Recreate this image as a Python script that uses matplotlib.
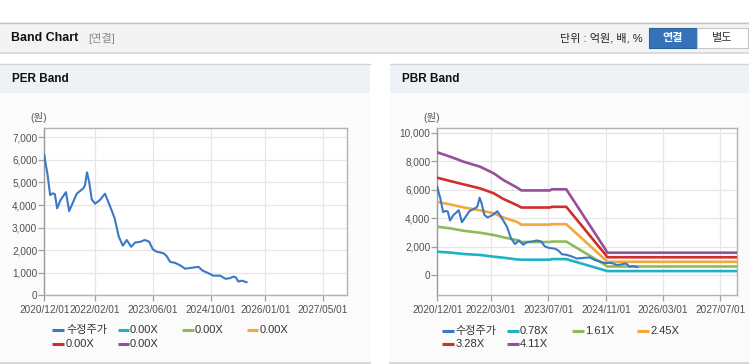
import matplotlib
matplotlib.use("Agg")
import matplotlib.pyplot as plt
import matplotlib.dates as mdates
from matplotlib.patches import Rectangle
from matplotlib.lines import Line2D
from matplotlib.ticker import FuncFormatter
import pandas as pd

# ---------------- data ----------------
price_dates = ['2020-12-01', '2020-12-13', '2020-12-27', '2021-01-19', '2021-02-10', '2021-02-28',
               '2021-03-19', '2021-04-16', '2021-06-01', '2021-06-28', '2021-07-27', '2021-08-30',
               '2021-10-25', '2021-11-08', '2021-11-25', '2021-12-13', '2022-01-04', '2022-02-01',
               '2022-03-13', '2022-04-25', '2022-05-22', '2022-06-19', '2022-07-16', '2022-08-19',
               '2022-09-22', '2022-10-25', '2022-12-01', '2023-01-04', '2023-02-15', '2023-03-25',
               '2023-05-01', '2023-06-01', '2023-07-04', '2023-08-28', '2023-09-25', '2023-10-25',
               '2023-12-04', '2024-01-16', '2024-02-28', '2024-04-22', '2024-06-19', '2024-07-25',
               '2024-09-10', '2024-10-22', '2024-12-19', '2025-02-01', '2025-03-10', '2025-04-10',
               '2025-05-01', '2025-05-19', '2025-06-19', '2025-07-28']
price_values = [6220, 5800, 5400, 4440, 4520, 4480,
                3850, 4220, 4570, 3730, 4080, 4500,
                4740, 4880, 5450, 5030, 4250, 4060,
                4220, 4500, 4150, 3780, 3400, 2600,
                2200, 2450, 2150, 2340, 2370, 2450,
                2380, 2040, 1930, 1870, 1740, 1480,
                1440, 1330, 1180, 1220, 1260, 1090,
                980, 870, 870, 730, 760, 830,
                780, 610, 650, 580]

band_dates = ['2020-12-01', '2021-03-20', '2021-07-10', '2021-12-01', '2022-03-25', '2022-06-15',
              '2022-10-05', '2022-11-15', '2023-07-15', '2023-08-01', '2023-12-01', '2024-11-01',
              '2024-11-12', '2027-12-31']
pbr_band_078 = [1660, 1600, 1500, 1430, 1310, 1240, 1120, 1100, 1100, 1140, 1140, 330, 300, 300]
pbr_band_161 = [3410, 3300, 3130, 2990, 2830, 2670, 2480, 2340, 2340, 2370, 2370, 700, 620, 620]
pbr_band_245 = [5150, 4980, 4770, 4560, 4350, 4060, 3760, 3560, 3560, 3590, 3590, 1060, 950, 950]
pbr_band_328 = [6850, 6620, 6390, 6100, 5760, 5360, 4940, 4760, 4760, 4810, 4810, 1420, 1270, 1270]
pbr_band_411 = [8630, 8330, 7980, 7620, 7160, 6690, 6180, 5960, 5960, 6040, 6040, 1780, 1590, 1590]

price_label = '수정주가'
per_band_labels = ['0.00X', '0.00X', '0.00X', '0.00X', '0.00X']
pbr_band_labels = ['0.78X', '1.61X', '2.45X', '3.28X', '4.11X']

per_ticks = ['2020/12/01', '2022/02/01', '2023/06/01', '2024/10/01', '2026/01/01', '2027/05/01']
pbr_ticks = ['2020/12/01', '2022/03/01', '2023/07/01', '2024/11/01', '2026/03/01', '2027/07/01']
per_yticks = [0, 1000, 2000, 3000, 4000, 5000, 6000, 7000]
pbr_yticks = [0, 2000, 4000, 6000, 8000, 10000]

# ---------------- style ----------------
W, H = 749, 364
C_PRICE = '#3b78c8'
BAND_COLORS = ['#1db3c4', '#8dbb58', '#f4a73a', '#cf2f2c', '#955099']
KFONT = ['Liberation Sans', 'Noto Sans CJK KR', 'DejaVu Sans']
plt.rcParams['font.family'] = KFONT

fig = plt.figure(figsize=(W / 100, H / 100), dpi=100)
fig.patch.set_facecolor('white')


def fx(x):
    return x / W


def fy(y):
    return 1 - y / H


def rect(x0, y0, x1, y1, fc, ec='none', lw=0, z=-10):
    r = Rectangle((fx(x0), fy(y1)), (x1 - x0) / W, (y1 - y0) / H, transform=fig.transFigure,
                  facecolor=fc, edgecolor=ec, linewidth=lw, zorder=z)
    fig.add_artist(r)


def hline(x0, x1, y, color, lw=1.0, z=-9):
    fig.add_artist(Line2D([fx(x0), fx(x1)], [fy(y), fy(y)], transform=fig.transFigure,
                          color=color, linewidth=lw, zorder=z))


# top header bar
rect(0, 22.5, 749, 53, '#f3f3f3')
hline(0, 749, 22.8, '#c4c4c4', 1.0)
hline(0, 749, 53.2, '#d6d6d6', 1.2)
fig.text(fx(11), fy(38), 'Band Chart', fontsize=8.9, fontweight='bold', color='#111111',
         va='center', ha='left', family=KFONT)
fig.text(fx(88), fy(38.5), '[연결]', fontsize=8, color='#8a8a8a', va='center', ha='left', family=KFONT)
fig.text(fx(643), fy(38.5), '단위 : 억원, 배, %', fontsize=8, color='#222222', va='center', ha='right',
         family=KFONT)
rect(648.5, 28.5, 697, 47.5, '#3573b8', ec='#2b62a0', lw=0.8, z=-8)
rect(697, 28.5, 748, 47.5, '#ffffff', ec='#c6c6c6', lw=0.8, z=-8)
fig.text(fx(673), fy(38.2), '연결', fontsize=8, fontweight='bold', color='white', va='center', ha='center',
         family=KFONT)
fig.text(fx(722.5), fy(38.2), '별도', fontsize=8, color='#333333', va='center', ha='center', family=KFONT)

# panels
for (x0, x1, title) in [(0, 370, 'PER Band'), (390, 749, 'PBR Band')]:
    rect(x0, 64, x1, 92.7, '#eef1f6')
    rect(x0, 92.7, x1, 362, '#fbfbfb')
    hline(x0, x1, 64.3, '#d4d4d4', 1.0)
    hline(x0, x1, 362.5, '#cfcfcf', 1.2)
    fig.text(fx(x0 + 11.5), fy(79.5), title, fontsize=8.5, fontweight='bold', color='#111111',
             va='center', ha='left', family=KFONT)


def style_axes(ax, ticks, yticks, ylim):
    ax.set_facecolor('white')
    xt = pd.to_datetime(ticks, format='%Y/%m/%d')
    ax.set_xticks(xt)
    ax.set_xticklabels(ticks)
    ax.set_xlim(pd.Timestamp('2020-12-01'), pd.Timestamp('2027-11-22'))
    ax.set_yticks(yticks)
    ax.set_ylim(*ylim)
    ax.yaxis.set_major_formatter(FuncFormatter(lambda v, p: f'{v:,.0f}'))
    ax.grid(True, color='#e6e6e6', linewidth=0.9)
    ax.set_axisbelow(True)
    for s in ax.spines.values():
        s.set_color('#b2b2b2')
        s.set_linewidth(1.0)
    ax.spines['left'].set_color('#9a9a9a')
    ax.tick_params(axis='both', colors='#a0a0a0', labelcolor='#505050', labelsize=7.2, length=4, width=0.9)
    ax.tick_params(axis='x', pad=3)
    ax.tick_params(axis='y', pad=1)


pd_price = pd.to_datetime(price_dates)
pd_band = pd.to_datetime(band_dates)

# PER axes
ax1 = fig.add_axes([fx(44.3), fy(295.3), 303 / W, 167 / H])
style_axes(ax1, per_ticks, per_yticks, (0, 7400))
ax1.plot(pd_price, price_values, color=C_PRICE, lw=1.5, zorder=5)
for c, lab in zip(BAND_COLORS, per_band_labels):
    ax1.plot([], [], color=c, lw=2, label=lab)
fig.text(fx(39), fy(118), '(원)', fontsize=7.5, color='#555555', ha='center', va='center', family=KFONT)

# PBR axes
ax2 = fig.add_axes([fx(437.3), fy(295.3), 300 / W, 167 / H])
style_axes(ax2, pbr_ticks, pbr_yticks, (-1400, 10320))
for c, vals, lab in zip(BAND_COLORS, [pbr_band_078, pbr_band_161, pbr_band_245, pbr_band_328, pbr_band_411],
                        pbr_band_labels):
    ax2.plot(pd_band, vals, color=c, lw=1.9, label=lab, zorder=3, clip_on=True)
ax2.plot(pd_price, price_values, color=C_PRICE, lw=1.5, zorder=5)
fig.text(fx(431.7), fy(118), '(원)', fontsize=7.5, color='#555555', ha='center', va='center', family=KFONT)


# manual legends
def legend(handle_x, text_x, rows_y, labels, colors):
    for i, (lab, c) in enumerate(zip(labels, colors)):
        r, col = divmod(i, 4)
        y = rows_y[r]
        hx = handle_x[col]
        fig.add_artist(Line2D([fx(hx), fx(hx + 11.5)], [fy(y), fy(y)], transform=fig.transFigure,
                              color=c, linewidth=2.2, solid_capstyle='butt'))
        fig.text(fx(text_x[col]), fy(y), lab, fontsize=8, color='#333333', ha='left', va='center',
                 family=KFONT)


legend([52.3, 117.7, 182.3, 246.7], [66.0, 130.0, 195.0, 260.0], [330.3, 344.3],
       [price_label] + per_band_labels, [C_PRICE] + BAND_COLORS)
legend([442.3, 507.0, 572.3, 637.0], [455.5, 520.0, 585.5, 650.0], [330.7, 344.3],
       [price_label] + pbr_band_labels, [C_PRICE] + BAND_COLORS)

fig.savefig('out.png', dpi=100, facecolor='white')
